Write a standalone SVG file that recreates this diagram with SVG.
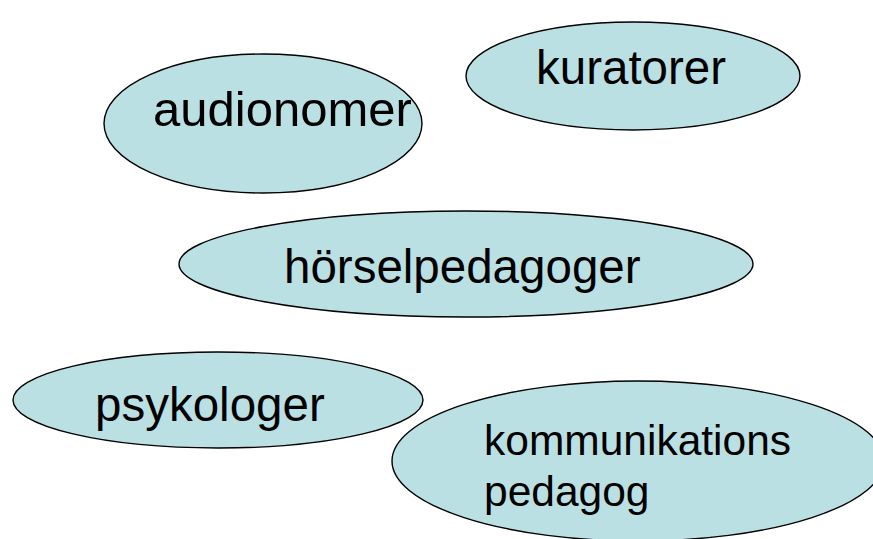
<svg xmlns="http://www.w3.org/2000/svg" width="873" height="539" viewBox="0 0 873 539">
<style>
.n{fill:#BBE0E3;stroke:#000;stroke-width:1.4}
.t{font-family:"Liberation Sans",Arial,sans-serif;font-size:47.5px;fill:#000}
.s{font-size:42.5px}
</style>
<rect width="873" height="539" fill="#fff"/>
<g id="connectors"/>
<g id="audionomer"><ellipse class="n" cx="263" cy="123.5" rx="159" ry="69.5"/><text class="t" x="153" y="126" style="font-size:49px">audionomer</text></g>
<g id="kuratorer"><ellipse class="n" cx="633" cy="76" rx="167" ry="54"/><text class="t" x="536" y="84">kuratorer</text></g>
<g id="horselpedagoger"><ellipse class="n" cx="466" cy="264" rx="287" ry="53"/><text class="t" x="284" y="283">hörselpedagoger</text></g>
<g id="psykologer"><ellipse class="n" cx="218" cy="400" rx="205" ry="48"/><text class="t" x="95" y="421">psykologer</text></g>
<g id="kommunikationspedagog"><ellipse class="n" cx="638" cy="461" rx="246" ry="80"/><text class="t s" x="484" y="455">kommunikations</text><text class="t s" x="484" y="506">pedagog</text></g>
</svg>
